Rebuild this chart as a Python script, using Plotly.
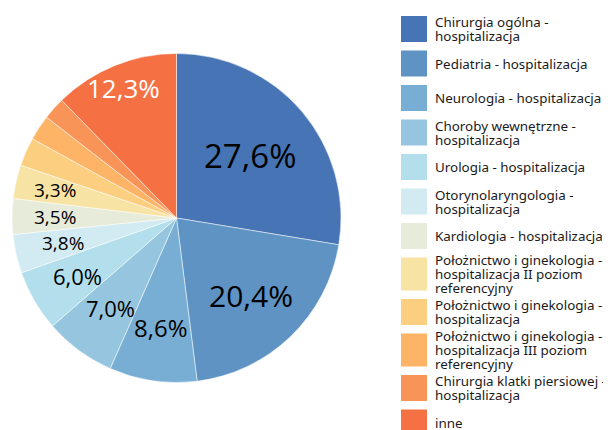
import math
import textwrap
import plotly.graph_objects as go

# udział oddziałów (%)
oddzialy = [
    "Chirurgia ogólna - hospitalizacja",
    "Pediatria - hospitalizacja",
    "Neurologia - hospitalizacja",
    "Choroby wewnętrzne - hospitalizacja",
    "Urologia - hospitalizacja",
    "Otorynolaryngologia - hospitalizacja",
    "Kardiologia - hospitalizacja",
    "Położnictwo i ginekologia - hospitalizacja II poziom referencyjny",
    "Położnictwo i ginekologia - hospitalizacja",
    "Położnictwo i ginekologia - hospitalizacja III poziom referencyjny",
    "Chirurgia klatki piersiowej - hospitalizacja",
    "inne",
]
udzial = [27.6, 20.4, 8.6, 7.0, 6.0, 3.8, 3.5, 3.3, 2.8, 2.5, 2.2, 12.3]

kolory = ["#4674b5", "#5f93c4", "#78aed3", "#96c6df", "#b3dfec", "#d2ebf2",
          "#e7ebda", "#f7e3a3", "#fccf80", "#fdb467", "#f99459", "#f57144"]

# strona ma 8px marginesu w body, wiec rysunek jest mniejszy i przesuniety
OFF = 8
W, H = 611 - OFF, 430 - OFF


def px_x(x):
    return (x - OFF) / W


def px_y(y):
    return 1 - (y - OFF) / H


# kolo: lewo 12, prawo 341, gora 53, dol 383 (px okna)
LEFT, RIGHT, TOP, BOTTOM = 12, 341, 53, 383
cx, cy = (LEFT + RIGHT) / 2, (TOP + BOTTOM) / 2
R = min(RIGHT - LEFT, BOTTOM - TOP) / 2

fig = go.Figure()
fig.add_trace(go.Pie(
    labels=oddzialy,
    values=udzial,
    textinfo="none",
    marker=dict(colors=kolory, line=dict(color="white", width=0.5)),
    sort=False,
    direction="clockwise",
    rotation=0,
    showlegend=False,
    hoverinfo="label+percent",
    domain=dict(x=[px_x(LEFT), px_x(RIGHT)], y=[px_y(BOTTOM), px_y(TOP)]),
))

annotations = []

# etykiety procentowe w srodku kata kawalka (tylko >= 3%)
rozmiary = [33, 30, 24, 22, 22, 19, 19, 19, 0, 0, 0, 26]
promien = [0.59, 0.65, 0.67, 0.68, 0.70, 0.71, 0.74, 0.76, 0, 0, 0, 0.855]
kolory_tekstu = ["black"] * 11 + ["white"]
suma = sum(udzial)
narast = 0
for v, fs, rf, kt in zip(udzial, rozmiary, promien, kolory_tekstu):
    kat = 2 * math.pi * (narast + v / 2) / suma
    narast += v
    if v < 3:
        continue
    tx = cx + rf * R * math.sin(kat)
    ty = cy - rf * R * math.cos(kat)
    annotations.append(dict(xref="paper", yref="paper", x=px_x(tx), y=px_y(ty),
                            xanchor="center", yanchor="middle", showarrow=False,
                            text=f"{v:.1f}".replace(".", ",") + "%",
                            font=dict(family="Open Sans", size=fs, color=kt)))

# legenda rysowana recznie (duze kwadraty jak w oryginale)
shapes = []
y = 16
for nazwa, kolor in zip(oddzialy, kolory):
    linie = textwrap.wrap(nazwa, 29)
    h = max(26, 11 * len(linie))
    shapes.append(dict(type="rect", xref="paper", yref="paper",
                       x0=px_x(401), x1=px_x(427), y0=px_y(y), y1=px_y(y + h),
                       fillcolor=kolor, line=dict(width=0)))
    srodek = y + h / 2
    for k, linia in enumerate(linie):
        ly = srodek + (k - (len(linie) - 1) / 2) * 14
        annotations.append(dict(xref="paper", yref="paper", x=px_x(433), y=px_y(ly),
                                xanchor="left", yanchor="middle", align="left",
                                text=linia, showarrow=False,
                                font=dict(family="Noto Sans", size=13.4, color="#1a1a1a")))
    y += h + 8.5

fig.update_layout(
    width=W, height=H,
    margin=dict(l=0, r=0, t=0, b=0),
    paper_bgcolor="white",
    plot_bgcolor="white",
    shapes=shapes,
    annotations=annotations,
    font=dict(family="Open Sans"),
)

fig.write_html("out.html")
